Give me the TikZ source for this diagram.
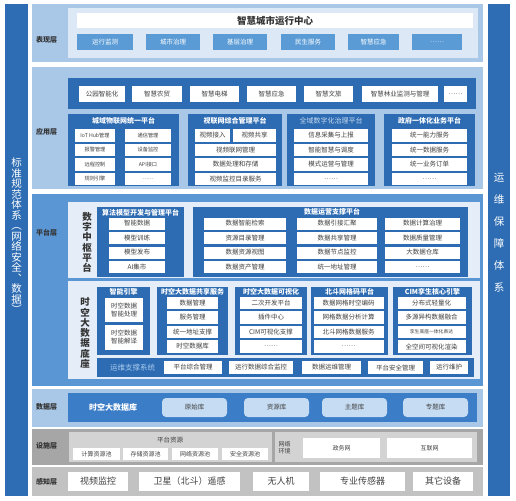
\documentclass[tikz,border=0pt]{standalone}
\usepackage{fontspec}
\setmainfont{Noto Sans CJK SC}
\definecolor{sidebar}{HTML}{2E6DB4}
\definecolor{darkblue}{HTML}{2D6BB2}
\definecolor{lightband}{HTML}{A9C8E8}
\definecolor{paleblue}{HTML}{DCE8F5}
\definecolor{midblue}{HTML}{5B9BD5}
\definecolor{platband}{HTML}{5A96D3}
\definecolor{platpale}{HTML}{E5EEF8}
\definecolor{datastrip}{HTML}{3C7DC7}
\definecolor{dbblue}{HTML}{C6DCF2}
\definecolor{facgray}{HTML}{A6A6A6}
\definecolor{facpale}{HTML}{D3D3D3}
\definecolor{sensegray}{HTML}{C2C2C2}
\definecolor{cellgray}{HTML}{404040}
\definecolor{labelgray}{HTML}{333333}
\definecolor{opslabel}{HTML}{A9CDF0}
\definecolor{govtitle}{HTML}{C9DDF2}

\begin{document}
\begin{tikzpicture}[x=1pt,y=-1pt,
  every node/.style={inner sep=0pt},
  layer/.style={text=labelgray,font=\bfseries\fontsize{7}{8}\selectfont},
  btn/.style={fill=midblue,text=white,font=\fontsize{6.5}{7}\selectfont,minimum height=16},
  appcell/.style={fill=white,text=cellgray,font=\fontsize{6.5}{7}\selectfont,minimum height=16},
  cell/.style={fill=white,text=cellgray,font=\fontsize{6.5}{7}\selectfont,minimum height=12.5},
  iotcell/.style={cell,font=\fontsize{5.2}{6}\selectfont},
  faccell/.style={fill=white,text=cellgray,font=\fontsize{6}{7}\selectfont,minimum height=12},
  boxtitle/.style={text=white,font=\bfseries\fontsize{7}{8}\selectfont},
  vlabel/.style={text=labelgray,align=center,font=\bfseries\fontsize{9.5}{10.3}\selectfont},
  sidetext/.style={text=white,align=center},
  db/.style={fill=dbblue,rounded corners=4pt,text=cellgray,font=\fontsize{6.5}{7}\selectfont,minimum width=65,minimum height=19},
  base/.style={fill=white,text=cellgray,font=\fontsize{9}{10}\selectfont,minimum height=19}
]
\useasboundingbox (0,0) rectangle (516,500);
\fill[white] (0,0) rectangle (516,500);

\fill[sidebar] (5,4) rectangle (28,496);
\fill[sidebar] (488,4) rectangle (510,496);
\node[sidetext,font=\fontsize{10.5}{10.5}\selectfont] (std) at (16.5,236) {标\\准\\规\\范\\体\\系\\︵\\网\\络\\安\\全\\︑\\数\\据\\︶};
\node[sidetext,font=\fontsize{10.5}{22}\selectfont] (ops) at (499,233) {运\\维\\保\\障\\体\\系};

\fill[lightband] (32,4) rectangle (483,62);
\fill[paleblue] (68,8) rectangle (478,58);
\node[layer] (lshow) at (46.5,40) {表现层};
\node[fill=white,text=labelgray,minimum width=396,minimum height=15,font=\bfseries\fontsize{9.5}{10}\selectfont] (ctr) at (275,20.5) {智慧城市运行中心};
\node[btn,minimum width=56] (s1) at (105,42) {运行监测};
\node[btn,minimum width=54] (s2) at (173,42) {城市治理};
\node[btn,minimum width=54] (s3) at (240,42) {基层治理};
\node[btn,minimum width=54] (s4) at (308,42) {民生服务};
\node[btn,minimum width=51] (s5) at (373.5,42) {智慧应急};
\node[btn,minimum width=50] (s6) at (437,42) {……};

\fill[lightband] (32,67) rectangle (483,189);
\node[layer] (lapp) at (46.5,132) {应用层};
\fill[darkblue] (68,78) rectangle (476,109);
\node[appcell,minimum width=46] (a1) at (102,94) {公园智能化};
\node[appcell,minimum width=50] (a2) at (157,94) {智慧农贸};
\node[appcell,minimum width=49] (a3) at (214.5,94) {智慧电梯};
\node[appcell,minimum width=49] (a4) at (271.5,94) {智慧应急};
\node[appcell,minimum width=49] (a5) at (328.5,94) {智慧文旅};
\node[appcell,minimum width=76] (a6) at (400,94) {智慧林业监测与管理};
\node[appcell,minimum width=23] (a7) at (455.5,94) {……};

\fill[darkblue] (68,114) rectangle (179,186);
\node[boxtitle] (iot) at (123.5,121) {城域物联网统一平台};
\node[iotcell,minimum width=40] (iot1) at (95,135.5) {IoT Hub管理};
\node[iotcell,minimum width=46] (iot2) at (148,135.5) {通信管理};
\node[iotcell,minimum width=40] (iot3) at (95,150) {报警管理};
\node[iotcell,minimum width=46] (iot4) at (148,150) {设备监控};
\node[iotcell,minimum width=40] (iot5) at (95,164.5) {远程控制};
\node[iotcell,minimum width=46] (iot6) at (148,164.5) {API接口};
\node[iotcell,minimum width=40] (iot7) at (95,179) {规则引擎};
\node[iotcell,minimum width=46] (iot8) at (148,179) {……};

\fill[darkblue] (188,114) rectangle (282,186);
\node[boxtitle] (vid) at (235,121) {视联网综合管理平台};
\node[cell,minimum width=35] (vid1) at (212.5,135.5) {视频接入};
\node[cell,minimum width=43] (vid2) at (254.5,135.5) {视频共享};
\node[cell,minimum width=81] (vid3) at (235.5,150) {视频联网管理};
\node[cell,minimum width=81] (vid4) at (235.5,164.5) {数据处理和存储};
\node[cell,minimum width=81] (vid5) at (235.5,179) {视频监控目录服务};

\fill[darkblue] (287,114) rectangle (375,186);
\node[boxtitle,text=govtitle,font=\fontsize{7}{8}\selectfont] (gov) at (331,121) {全域数字化治理平台};
\node[cell,minimum width=74] (gov1) at (331,135.5) {信息采集与上报};
\node[cell,minimum width=74] (gov2) at (331,150) {智能智慧与调度};
\node[cell,minimum width=74] (gov3) at (331,164.5) {模式运营与管理};
\node[cell,minimum width=74] (gov4) at (331,179) {……};

\fill[darkblue] (384,114) rectangle (475,186);
\node[boxtitle] (biz) at (429.5,121) {政府一体化业务平台};
\node[cell,minimum width=75] (biz1) at (429.5,135.5) {统一能力服务};
\node[cell,minimum width=75] (biz2) at (429.5,150) {统一数据服务};
\node[cell,minimum width=75] (biz3) at (429.5,164.5) {统一业务订单};
\node[cell,minimum width=75] (biz4) at (429.5,179) {……};

\fill[platband] (32,194) rectangle (483,386);
\node[layer] (lplat) at (46.5,233) {平台层};
\fill[platpale] (68,202) rectangle (480,278);
\node[vlabel] (hub) at (87,242.5) {数\\字\\中\\枢\\平\\台};
\fill[darkblue] (97,207) rectangle (184,277);
\node[boxtitle] (algo) at (140.5,213) {算法模型开发与管理平台};
\node[cell,minimum width=56,minimum height=12] (algo1) at (137,223.5) {智能数据};
\node[cell,minimum width=56,minimum height=12] (algo2) at (137,238) {模型训练};
\node[cell,minimum width=56,minimum height=12] (algo3) at (137,252.5) {模型发布};
\node[cell,minimum width=56,minimum height=12] (algo4) at (137,267) {AI集市};

\fill[darkblue] (193,207) rectangle (468,277);
\node[boxtitle] (dop) at (332,212) {数据运营支撑平台};
\node[cell,minimum width=82,minimum height=12] (dop1) at (245,223.5) {数据智能检索};
\node[cell,minimum width=82,minimum height=12] (dop2) at (245,238) {资源目录管理};
\node[cell,minimum width=82,minimum height=12] (dop3) at (245,252.5) {数据资源视图};
\node[cell,minimum width=82,minimum height=12] (dop4) at (245,267) {数据资产管理};
\node[cell,minimum width=80,minimum height=12] (dop5) at (337,223.5) {数据引接汇聚};
\node[cell,minimum width=80,minimum height=12] (dop6) at (337,238) {数据共享管理};
\node[cell,minimum width=80,minimum height=12] (dop7) at (337,252.5) {数据节点监控};
\node[cell,minimum width=80,minimum height=12] (dop8) at (337,267) {统一地址管理};
\node[cell,minimum width=75,minimum height=12] (dop9) at (422.5,223.5) {数据计算治理};
\node[cell,minimum width=75,minimum height=12] (dop10) at (422.5,238) {数据质量管理};
\node[cell,minimum width=75,minimum height=12] (dop11) at (422.5,252.5) {大数据仓库};
\node[cell,minimum width=75,minimum height=12] (dop12) at (422.5,267) {……};

\fill[platpale] (68,281) rectangle (480,379);
\node[vlabel] (st) at (85,333) {时\\空\\大\\数\\据\\底\\座};
\fill[darkblue] (97,287) rectangle (150,355);
\node[boxtitle] (eng) at (123.5,292) {智能引擎};
\node[cell,align=center,font=\fontsize{6.5}{8}\selectfont,minimum width=38,minimum height=24] (eng1) at (124,310) {时空数据\\智能处理};
\node[cell,align=center,font=\fontsize{6.5}{8}\selectfont,minimum width=38,minimum height=25] (eng2) at (124,337.5) {时空数据\\智能解译};

\fill[darkblue] (157,287) rectangle (228,355);
\node[boxtitle] (shr) at (192.5,292) {时空大数据共享服务};
\node[cell,minimum width=51] (shr1) at (192.5,303) {数据管理};
\node[cell,minimum width=51] (shr2) at (192.5,317.5) {服务管理};
\node[cell,minimum width=51] (shr3) at (192.5,332) {统一地址支撑};
\node[cell,minimum width=51] (shr4) at (192.5,346.5) {时空数据库};

\fill[darkblue] (235,287) rectangle (307,355);
\node[boxtitle] (vis) at (271,292) {时空大数据可视化};
\node[cell,minimum width=62] (vis1) at (271,303) {二次开发平台};
\node[cell,minimum width=62] (vis2) at (271,317.5) {插件中心};
\node[cell,minimum width=62] (vis3) at (271,332) {CIM可视化支撑};
\node[cell,minimum width=62] (vis4) at (271,346.5) {……};

\fill[darkblue] (311,287) rectangle (388,355);
\node[boxtitle] (bd) at (349.5,292) {北斗网格码平台};
\node[cell,minimum width=70] (bd1) at (348.5,303) {数据网格时空编码};
\node[cell,minimum width=70] (bd2) at (348.5,317.5) {网格数据分析计算};
\node[cell,minimum width=70] (bd3) at (348.5,332) {北斗网格数据服务};
\node[cell,minimum width=70] (bd4) at (348.5,346.5) {……};

\fill[darkblue] (393,287) rectangle (472,355);
\node[boxtitle] (cim) at (432.5,292) {CIM孪生核心引擎};
\node[cell,minimum width=68] (cim1) at (431.5,303) {分布式轻量化};
\node[cell,minimum width=68] (cim2) at (431.5,317.5) {多源异构数据融合};
\node[cell,minimum width=68,font=\fontsize{4.8}{5}\selectfont] (cim3) at (431.5,332) {孪生底座一体化表达};
\node[cell,minimum width=68] (cim4) at (431.5,346.5) {全空间可视化渲染};

\fill[darkblue] (97,358) rectangle (474,377);
\node[text=opslabel,font=\fontsize{7.5}{8}\selectfont] (sys) at (132.5,367.5) {运维支撑系统};
\node[cell,minimum width=58,minimum height=13] (sys1) at (193,367.5) {平台综合管理};
\node[cell,minimum width=64,minimum height=13] (sys2) at (261,367.5) {运行数据综合监控};
\node[cell,minimum width=59,minimum height=13] (sys3) at (331.5,367.5) {数据运维管理};
\node[cell,minimum width=55,minimum height=13] (sys4) at (395.5,367.5) {平台安全管理};
\node[cell,minimum width=38,minimum height=13] (sys5) at (449,367.5) {运行维护};

\fill[lightband] (32,389) rectangle (483,427);
\node[layer] (ldata) at (46.5,407) {数据层};
\fill[datastrip] (68,393) rectangle (477,422);
\node[text=white,font=\bfseries\fontsize{8}{9}\selectfont] (stdb) at (113,407.5) {时空大数据库};
\node[db] (db1) at (194.5,407.5) {原始库};
\node[db] (db2) at (276.5,407.5) {资源库};
\node[db] (db3) at (354.5,407.5) {主题库};
\node[db] (db4) at (435.5,407.5) {专题库};

\fill[facgray] (32,429) rectangle (483,465);
\node[layer] (lfac) at (46.5,446) {设施层};
\fill[facpale] (69,432) rectangle (272,462);
\node[text=cellgray,font=\fontsize{6.5}{7}\selectfont] (res) at (170,440) {平台资源};
\node[faccell,minimum width=47] (res1) at (96.5,454) {计算资源池};
\node[faccell,minimum width=45] (res2) at (145.5,454) {存储资源池};
\node[faccell,minimum width=46] (res3) at (195,454) {网络资源池};
\node[faccell,minimum width=46] (res4) at (245,454) {安全资源池};
\fill[facpale] (275,432) rectangle (477,462);
\node[text=cellgray,align=center,font=\fontsize{6}{7}\selectfont] (net) at (284.5,448) {网络\\环境};
\node[faccell,minimum width=77,minimum height=20] (net1) at (341.5,448) {政务网};
\node[faccell,minimum width=85,minimum height=20] (net2) at (429.5,448) {互联网};

\fill[sensegray] (32,467) rectangle (483,496);
\node[layer] (lsen) at (46.5,482) {感知层};
\node[base,minimum width=60] (sen1) at (98,481.5) {视频监控};
\node[base,minimum width=101] (sen2) at (189.5,481.5) {卫星（北斗）遥感};
\node[base,minimum width=56] (sen3) at (281,481.5) {无人机};
\node[base,minimum width=85] (sen4) at (362.5,481.5) {专业传感器};
\node[base,minimum width=60] (sen5) at (443,481.5) {其它设备};
\end{tikzpicture}
\end{document}
